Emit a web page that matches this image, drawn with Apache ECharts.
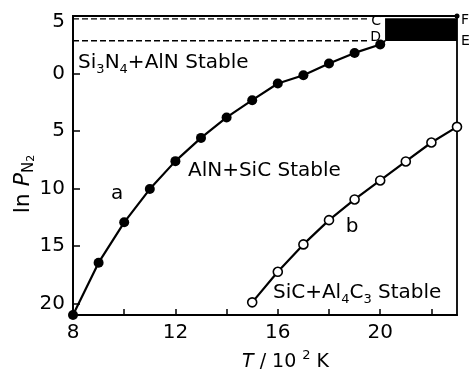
<!DOCTYPE html>
<html>
<head>
<meta charset="utf-8">
<script src="https://cdn.jsdelivr.net/npm/echarts@6/dist/echarts.min.js"></script>
<style>html,body{margin:0;padding:0;background:#fff}#c{width:470px;height:371px}</style>
</head>
<body>
<div id="c"></div>
<script>
// ---- data ----
const tempA = [8, 9, 10, 11, 12, 13, 14, 15, 16, 17, 18, 19, 20];
const lnPA  = [-21, -16.45, -12.94, -10.05, -7.62, -5.6, -3.82, -2.32, -0.87, -0.15, 0.87, 1.79, 2.52];
const pointD = [20.19, 2.83];
const tempB = [15, 16, 17, 18, 19, 20, 21, 22, 23];
const lnPB  = [-19.9, -17.24, -14.86, -12.75, -10.95, -9.3, -7.65, -6.0, -4.64];
const rectT = [20.19, 23];
const rectLnP = [2.83, 4.8];
const dashT = [8, 19.52];
const dashC = 4.75;
const dashD = 2.85;
const pointF = [23, 5];
const xRange = [8, 23];
const yRange = [-21, 5];
const xTickVals = [10, 12, 14, 16, 18, 20, 22];
const xLabelVals = [8, 12, 16, 20];
const yTickVals = [5, 0, -5, -10, -15, -20];
const yTickLabels = ['5', '0', '5', '10', '15', '20'];
const annoTexts = [
  '{m|Si}{s|3}{m|N}{s|4}{m|+AlN Stable}',
  '{m|AlN+SiC Stable}',
  '{m|SiC+Al}{s|4}{m|C}{s|3}{m| Stable}',
  '{m|a}', '{m|b}'
];
const annoPos = [[8.2, 0.89], [12.49, -8.49], [15.81, -19.09], [9.72, -10.49], [18.9, -13.35]];
const cornerTexts = ['C', 'D', 'E', 'F'];
const cornerPos = [[20.19, 4.55], [20.19, 3.11], [23, 2.81], [23, 4.63]];

const FONT = 'DejaVu Sans';
const rich = {
  m: {fontSize: 20, fontFamily: FONT, color: '#000', lineHeight: 26, verticalAlign: 'middle'},
  s: {fontSize: 13, fontFamily: FONT, color: '#000', lineHeight: 14, verticalAlign: 'bottom'},
  c: {fontSize: 14, fontFamily: FONT, color: '#000'}
};

const chart = echarts.init(document.getElementById('c'), null, {renderer: 'canvas'});
const annoData = annoTexts.map((t, i) => ({
  value: annoPos[i],
  label: {show: true, formatter: t, color: '#000', opacity: 1, position: i >= 3 ? 'inside' : 'right', distance: 0, rich: rich}
}));
const cornerData = cornerTexts.map((t, i) => ({
  value: cornerPos[i],
  label: {show: true, formatter: '{c|' + t + '}', color: '#000', opacity: 1, position: i < 2 ? 'left' : 'right', distance: 4, rich: rich}
}));

chart.setOption({
  animation: false,
  backgroundColor: '#fff',
  grid: {left: 73, right: 13, top: 16, bottom: 56, containLabel: false, show: true, borderColor: '#000', borderWidth: 1.8},
  xAxis: {
    type: 'value', min: xRange[0], max: xRange[1],
    axisLine: {show: true, onZero: false, lineStyle: {color: '#000', width: 1.8}},
    axisTick: {show: true, inside: true, length: 6, lineStyle: {color: '#000', width: 1.5}, customValues: xTickVals},
    axisLabel: {show: true, customValues: xLabelVals, color: '#000', fontSize: 20, fontFamily: FONT, margin: 8},
    splitLine: {show: false}
  },
  yAxis: {
    type: 'value', min: yRange[0], max: yRange[1],
    axisLine: {show: true, onZero: false, lineStyle: {color: '#000', width: 1.8}},
    axisTick: {show: true, inside: true, length: 7, lineStyle: {color: '#000', width: 1.5}, customValues: yTickVals},
    axisLabel: {
      show: true, customValues: yTickVals, color: '#000', fontSize: 20, fontFamily: FONT, margin: 8,
      formatter: function (v) {
        const i = yTickVals.indexOf(v);
        const t = i >= 0 ? yTickLabels[i] : '';
        return v === yRange[1] ? '{t|' + t + '}' : t;
      },
      rich: {t: {fontSize: 20, fontFamily: FONT, color: '#000', padding: [12, 0, 0, 0]}}
    },
    splitLine: {show: false}
  },
  series: [
    {type: 'line', data: dashT.map(t => [t, dashC]), symbol: 'none', lineStyle: {color: '#000', width: 1.3, type: [6, 3]}, z: 2,
     markArea: {silent: true, itemStyle: {color: '#000', opacity: 1}, data: [[{coord: [rectT[0], rectLnP[0]]}, {coord: [rectT[1], rectLnP[1]]}]]}},
    {type: 'line', data: dashT.map(t => [t, dashD]), symbol: 'none', lineStyle: {color: '#000', width: 1.3, type: [6, 3]}, z: 2},
    {type: 'line', data: tempA.map((t, i) => [t, lnPA[i]]).concat([{value: pointD, symbol: 'none'}]),
     symbol: 'circle', symbolSize: 10, itemStyle: {color: '#000', opacity: 1}, lineStyle: {color: '#000', width: 2.2}, z: 3, clip: false},
    {type: 'line', data: tempB.map((t, i) => [t, lnPB[i]]),
     symbol: 'circle', symbolSize: 9, itemStyle: {color: '#fff', borderColor: '#000', borderWidth: 1.6, opacity: 1},
     lineStyle: {color: '#000', width: 2.2}, z: 3, clip: false},
    {type: 'scatter', data: [pointF], symbolSize: 5, itemStyle: {color: '#000', opacity: 1}, clip: false, z: 4},
    {type: 'scatter', data: annoData, symbolSize: 0, itemStyle: {opacity: 1}, clip: false, z: 5, silent: true},
    {type: 'scatter', data: cornerData, symbolSize: 0, itemStyle: {opacity: 1}, clip: false, z: 5, silent: true}
  ],
  graphic: [
    {type: 'text', x: 23, y: 184, rotation: Math.PI / 2,
     style: {text: '{m|ln }{i|P}{s|N}{ss|2}', align: 'center', verticalAlign: 'middle',
       rich: {
         m: {fontSize: 22, fontFamily: FONT, fill: '#000', lineHeight: 28, verticalAlign: 'middle'},
         i: {fontSize: 22, fontFamily: FONT, fontStyle: 'italic', fill: '#000', lineHeight: 28, verticalAlign: 'middle'},
         s: {fontSize: 15, fontFamily: FONT, fill: '#000', lineHeight: 18, verticalAlign: 'bottom'},
         ss: {fontSize: 11, fontFamily: FONT, fill: '#000', lineHeight: 10, verticalAlign: 'bottom'}
       }}},
    {type: 'text', x: 242, y: 362,
     style: {text: '{i|T}{m| / 10 }{sup|2}{m| K}', align: 'left', verticalAlign: 'middle',
       rich: {
         m: {fontSize: 19, fontFamily: FONT, fill: '#000', lineHeight: 26, verticalAlign: 'middle'},
         i: {fontSize: 19, fontFamily: FONT, fontStyle: 'italic', fill: '#000', lineHeight: 26, verticalAlign: 'middle'},
         sup: {fontSize: 13, fontFamily: FONT, fill: '#000', lineHeight: 8, verticalAlign: 'top'}
       }}}
  ]
});
</script>
</body>
</html>
